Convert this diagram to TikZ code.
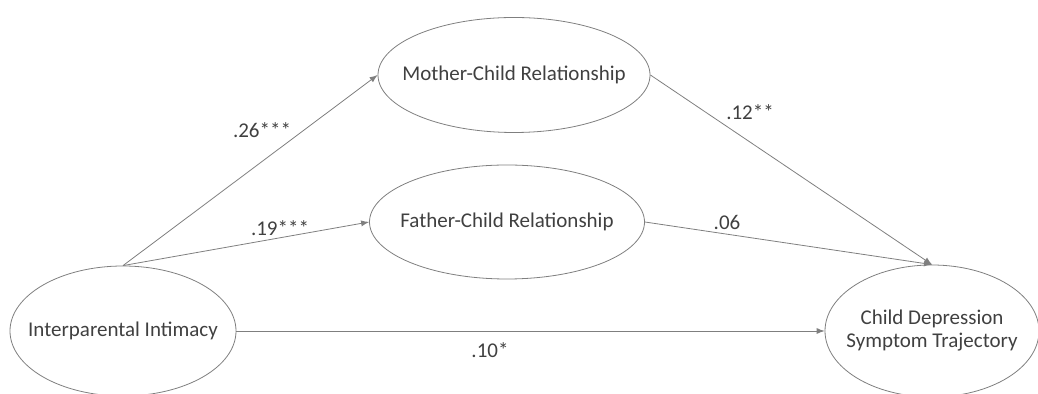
\documentclass[tikz,border=0pt]{standalone}
\usepackage{fontspec}
\setmainfont{Carlito}
\usepackage{xcolor}
\usetikzlibrary{shapes, arrows, positioning}
\definecolor{linegray}{HTML}{7F7F7F}
\definecolor{txtgray}{HTML}{404040}

\begin{document}
\begin{tikzpicture}[x=0.5pt, y=-0.5pt, >=latex,
    every node/.style={font=\fontsize{10.5}{11.5}\selectfont, text=txtgray},
    every label/.style={align=center},
    var/.style={draw=linegray, ellipse, inner sep=0pt},
    lbl/.style={inner sep=1pt}]
      \useasboundingbox (0,0) rectangle (1038,394);

      \node[var, minimum width=113pt, minimum height=65pt, label={center:Interparental Intimacy}] at (123,331) (I) {};
      \node[var, minimum width=136pt, minimum height=57.5pt, label={center:Mother-Child Relationship}] at (514,75) (M) {};
      \node[var, minimum width=137.5pt, minimum height=57pt, label={center:Father-Child Relationship}] at (507,222) (F) {};
      \node[var, minimum width=107pt, minimum height=66pt, label={center:Child Depression\\Symptom Trajectory}] at (932,331) (C) {};

      \draw[->, linegray] (I.north) -- (M.west);
      \draw[->, linegray] (I.north) -- (F.west);
      \draw[->, linegray] (I.east) -- (C.west);
      \draw[->, linegray] (M.east) -- (C.north);
      \draw[->, linegray] (F.east) -- (C.north);

      \node[lbl] at (262,130) (l26) {.26***};
      \node[lbl] at (280,228) (l19) {.19***};
      \node[lbl] at (750,112) (l12) {.12**};
      \node[lbl] at (727,222) (l06) {.06};
      \node[lbl] at (490,350) (l10) {.10*};
    \end{tikzpicture}
\end{document}
